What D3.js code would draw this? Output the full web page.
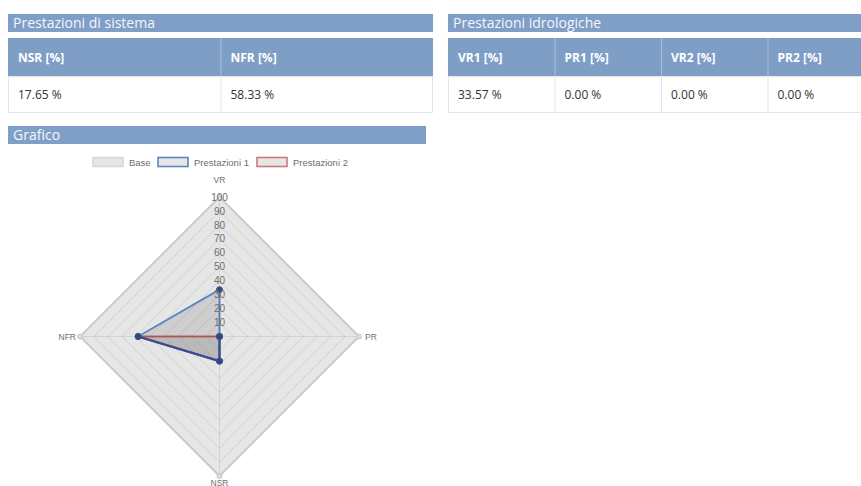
<!DOCTYPE html>
<html><head><meta charset="utf-8">
<script src="https://cdn.jsdelivr.net/npm/d3@7"></script>
<style>
html,body{margin:0;padding:0;background:#fff;overflow:hidden}
svg{display:block}
</style></head>
<body>
<svg id="c" width="861" height="486"></svg>
<script>
// ---- data ----
const sysTitle = "Prestazioni di sistema";
const sysCols = ["NSR [%]", "NFR [%]"];
const sysVals = [17.65, 58.33];
const hydTitle = "Prestazioni idrologiche";
const hydCols = ["VR1 [%]", "PR1 [%]", "VR2 [%]", "PR2 [%]"];
const hydVals = [33.57, 0.00, 0.00, 0.00];
const chartTitle = "Grafico";
const axesLabels = ["VR", "PR", "NSR", "NFR"];
const seriesNames = ["Base", "Prestazioni 1", "Prestazioni 2"];
const baseVals = [100, 100, 100, 100];
const prest1Vals = [33.57, 0, 17.65, 58.33];
const prest2Vals = [0, 0, 17.65, 58.33];
const tickVals = [10, 20, 30, 40, 50, 60, 70, 80, 90, 100];

// ---- styles ----
const barColor = "#7f9fc6";
const headColor = "#7e9ec6";
const borderColor = "#e2e5ea";
const uiFont = "'Open Sans', sans-serif";
const chartFont = "'Liberation Sans', Arial, sans-serif";
const chartText = "#6e6e6e";

const svg = d3.select("#c");

function titleBar(x, y, w, h, text) {
  svg.append("rect").attr("x", x).attr("y", y).attr("width", w).attr("height", h).attr("fill", barColor);
  svg.append("text").attr("x", x + 5).attr("y", y + h / 2 + 5)
    .attr("font-family", uiFont).attr("font-size", 14).attr("fill", "#f3f6fb").text(text);
}

function table(x, y, w, cols, vals) {
  const xs = d3.scaleBand().domain(d3.range(cols.length)).range([x, x + w]);
  const hh = 38, rh = 37;
  const g = svg.append("g");
  g.append("rect").attr("x", x).attr("y", y).attr("width", w).attr("height", hh).attr("fill", headColor);
  g.append("rect").attr("x", x + 0.5).attr("y", y + hh + 0.5).attr("width", w - 1).attr("height", rh - 1)
    .attr("fill", "#fff").attr("stroke", borderColor);
  cols.forEach((c, i) => {
    if (i > 0) {
      g.append("line").attr("x1", xs(i) + 0.5).attr("x2", xs(i) + 0.5).attr("y1", y).attr("y2", y + hh)
        .attr("stroke", "#a9bedb").attr("stroke-width", 1);
      g.append("line").attr("x1", xs(i) + 0.5).attr("x2", xs(i) + 0.5).attr("y1", y + hh).attr("y2", y + hh + rh)
        .attr("stroke", borderColor).attr("stroke-width", 1);
    }
    g.append("text").attr("x", xs(i) + 10).attr("y", y + hh / 2 + 4.5)
      .attr("font-family", uiFont).attr("font-size", 12).attr("font-weight", "bold").attr("fill", "#fff").text(c);
    g.append("text").attr("x", xs(i) + 10).attr("y", y + hh + rh / 2 + 4)
      .attr("font-family", uiFont).attr("font-size", 12).attr("fill", "#333").text(d3.format(".2f")(vals[i]) + " %");
  });
}

titleBar(8, 14, 425, 18, sysTitle);
table(8, 38, 425, sysCols, sysVals);
titleBar(448, 14, 426, 18, hydTitle);
table(448, 38, 426, hydCols, hydVals);
titleBar(8, 126, 418, 18, chartTitle);

// ---- legend ----
const legendStyles = [
  {fill: "#e6e6e6", stroke: "#d6d6d6"},
  {fill: "#e6e6e6", stroke: "#5b86bf"},
  {fill: "#e6e6e6", stroke: "#c97a78"}
];
const legendX = [93, 158, 257];
seriesNames.forEach((n, i) => {
  svg.append("rect").attr("x", legendX[i]).attr("y", 157.5).attr("width", 30).attr("height", 9)
    .attr("fill", legendStyles[i].fill).attr("stroke", legendStyles[i].stroke).attr("stroke-width", 1.6);
  svg.append("text").attr("x", legendX[i] + 36).attr("y", 165.5)
    .attr("font-family", chartFont).attr("font-size", 9.5).attr("fill", chartText).text(n);
});

// ---- radar ----
const cx = 219.5, cy = 336.5;
const r = d3.scaleLinear().domain([0, 100]).range([0, 139.5]);
const ang = d3.scaleLinear().domain([0, axesLabels.length]).range([0, 2 * Math.PI]);
const radial = d3.lineRadial().angle((d, i) => ang(i)).radius(d => r(d)).curve(d3.curveLinearClosed);
const pt = (v, i) => [cx + r(v) * Math.sin(ang(i)), cy - r(v) * Math.cos(ang(i))];

const rg = svg.append("g").attr("transform", `translate(${cx},${cy})`);

// base dataset (filled background)
rg.append("path").attr("d", radial(baseVals)).attr("fill", "#e6e6e6").attr("stroke", "#d2d2d2").attr("stroke-width", 2);

// grid
tickVals.forEach(t => {
  rg.append("path").attr("d", radial(axesLabels.map(() => t))).attr("fill", "none")
    .attr("stroke", "rgba(0,0,0,0.09)").attr("stroke-width", 1);
});
// angle lines
axesLabels.forEach((a, i) => {
  const [x, y] = pt(100, i);
  svg.append("line").attr("x1", cx).attr("y1", cy).attr("x2", x).attr("y2", y)
    .attr("stroke", "rgba(0,0,0,0.08)").attr("stroke-width", 1);
});

// datasets
rg.append("path").attr("d", radial(prest2Vals)).attr("fill", "rgba(110,110,110,0.2)")
  .attr("stroke", "#c7605d").attr("stroke-width", 2).attr("stroke-linejoin", "round");
rg.append("path").attr("d", radial(prest1Vals)).attr("fill", "rgba(110,110,110,0.2)")
  .attr("stroke", "#5c88c2").attr("stroke-width", 2).attr("stroke-linejoin", "round");

// overlapping edges (shared by both datasets) appear darker
const n = axesLabels.length;
d3.range(n).forEach(i => {
  const j = (i + 1) % n;
  if (prest1Vals[i] === prest2Vals[i] && prest1Vals[j] === prest2Vals[j]) {
    const [x1, y1] = pt(prest1Vals[i], i), [x2, y2] = pt(prest1Vals[j], j);
    svg.append("line").attr("x1", x1).attr("y1", y1).attr("x2", x2).attr("y2", y2)
      .attr("stroke", "#3a4d8e").attr("stroke-width", 2.2).attr("stroke-linecap", "round");
  }
});

// base points
baseVals.forEach((v, i) => {
  const [x, y] = pt(v, i);
  svg.append("circle").attr("cx", x).attr("cy", y).attr("r", 2.5).attr("fill", "#dcdcdc").attr("stroke", "#c8c8c8");
});
// dataset points
[prest2Vals, prest1Vals].forEach(vals => vals.forEach((v, i) => {
  const [x, y] = pt(v, i);
  svg.append("circle").attr("cx", x).attr("cy", y).attr("r", 3).attr("fill", "#34467f").attr("stroke", "#3d5592").attr("stroke-width", 1);
}));

// tick labels
tickVals.forEach(t => {
  svg.append("text").attr("x", cx).attr("y", cy - r(t) + 3.6).attr("text-anchor", "middle")
    .attr("font-family", chartFont).attr("font-size", 10).attr("fill", chartText).text(t);
});

// point labels
axesLabels.forEach((a, i) => {
  const [x, y] = pt(100, i);
  const s = Math.sin(ang(i)), c = Math.cos(ang(i));
  const t = svg.append("text").attr("font-family", chartFont).attr("font-size", 8.5).attr("fill", chartText).text(a);
  if (Math.abs(s) < 0.01) {
    t.attr("x", x).attr("text-anchor", "middle").attr("y", c > 0 ? y - 14 : y + 9.5);
  } else {
    t.attr("y", y + 3).attr("x", s > 0 ? x + 6 : x - 4).attr("text-anchor", s > 0 ? "start" : "end");
  }
});
</script>
</body></html>
